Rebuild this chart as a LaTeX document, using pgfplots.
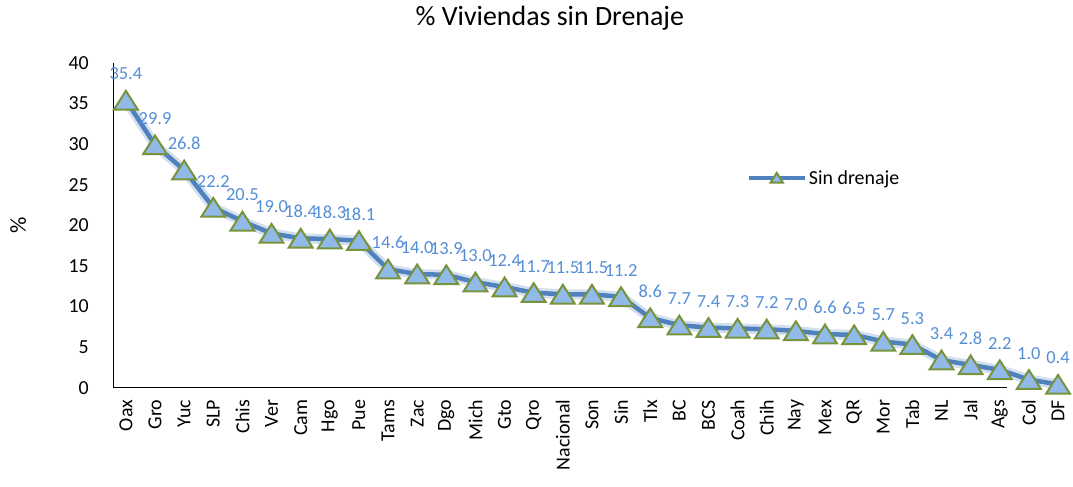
\documentclass[border=0pt]{standalone}
\usepackage{pgfplots}
\pgfplotsset{compat=1.18}
\usepackage{fontspec}
\setmainfont{Carlito}
\definecolor{linecol}{RGB}{79,129,189}
\definecolor{markdraw}{RGB}{119,147,60}
\definecolor{markfill}{RGB}{145,186,232}
\definecolor{labcol}{RGB}{85,142,213}
\begin{document}
\begin{tikzpicture}
\begin{axis}[
  scale only axis,
  width=959bp, height=325bp,
  xmin=-0.446, xmax=32.45,
  ymin=0, ymax=40,
  ytick={0,5,...,40},
  xtick={0,...,32},
  xticklabels={Oax,Gro,Yuc,SLP,Chis,Ver,Cam,Hgo,Pue,Tams,Zac,Dgo,Mich,Gto,Qro,Nacional,Son,Sin,Tlx,BC,BCS,Coah,Chih,Nay,Mex,QR,Mor,Tab,NL,Jal,Ags,Col,DF},
  xticklabel style={rotate=90, anchor=east, font=\fontsize{20}{22}\selectfont, inner sep=0pt},
  yticklabel style={font=\fontsize{20}{22}\selectfont, inner sep=0pt, xshift=-24bp},
  /pgf/number format/assume math mode=true,
  major tick length=0pt,
  axis x line*=bottom,
  axis y line*=left,
  x axis line style={draw=none},
  y axis line style={black, line width=0.8bp},
  xticklabel shift=12bp,
  ylabel={\%},
  ylabel style={at={(rel axis cs:-0.099,0.5)}, anchor=center, font=\fontsize{23}{25}\selectfont},
  clip=false,
  legend style={draw=none, fill=none, at={(rel axis cs:0.661,0.646)}, anchor=west, font=\fontsize{20}{22}\selectfont, inner sep=0pt},
  legend image code/.code={
    \draw[#1, mark=none] (0bp,0bp) -- (56bp,0bp);
    \draw[#1, mark size=6.5bp, line width=1.6bp] plot coordinates {(28bp,1.5bp)};
  },
  nodes near coords style={font=\fontsize{18.5}{20}\selectfont, text=labcol, anchor=south, yshift=19bp},
]
\draw[black, line width=0.8bp] (axis cs:-0.446,0) -- (axis cs:30.25,0);
% glow
\addplot[linecol, opacity=0.25, line width=10bp, forget plot] coordinates {
(0,35.4)(1,29.9)(2,26.8)(3,22.2)(4,20.5)(5,19.0)(6,18.4)(7,18.3)(8,18.1)(9,14.6)(10,14.0)(11,13.9)(12,13.0)(13,12.4)(14,11.7)(15,11.5)(16,11.5)(17,11.2)(18,8.6)(19,7.7)(20,7.4)(21,7.3)(22,7.2)(23,7.0)(24,6.6)(25,6.5)(26,5.7)(27,5.3)(28,3.4)(29,2.8)(30,2.2)(31,1.0)(32,0.4)
};
\addplot[linecol, line width=4.5bp, mark=triangle*, mark size=12.5bp,
  mark options={draw=markdraw, fill=markfill, line width=2bp, xscale=1.1, yshift=-3bp},
  nodes near coords, point meta=explicit symbolic] coordinates {
(0,35.4)[35.4](1,29.9)[29.9](2,26.8)[26.8](3,22.2)[22.2](4,20.5)[20.5](5,19.0)[19.0](6,18.4)[18.4](7,18.3)[18.3](8,18.1)[18.1](9,14.6)[14.6](10,14.0)[14.0](11,13.9)[13.9](12,13.0)[13.0](13,12.4)[12.4](14,11.7)[11.7](15,11.5)[11.5](16,11.5)[11.5](17,11.2)[11.2](18,8.6)[8.6](19,7.7)[7.7](20,7.4)[7.4](21,7.3)[7.3](22,7.2)[7.2](23,7.0)[7.0](24,6.6)[6.6](25,6.5)[6.5](26,5.7)[5.7](27,5.3)[5.3](28,3.4)[3.4](29,2.8)[2.8](30,2.2)[2.2](31,1.0)[1.0](32,0.4)[0.4]
};
\addlegendentry{Sin drenaje}
\node[font=\fontsize{28}{30}\selectfont] at (rel axis cs:0.456,1.138) {\% Viviendas sin Drenaje};
\end{axis}
\path (-113bp,-99bp) rectangle (960bp,388bp);
\end{tikzpicture}
\end{document}
